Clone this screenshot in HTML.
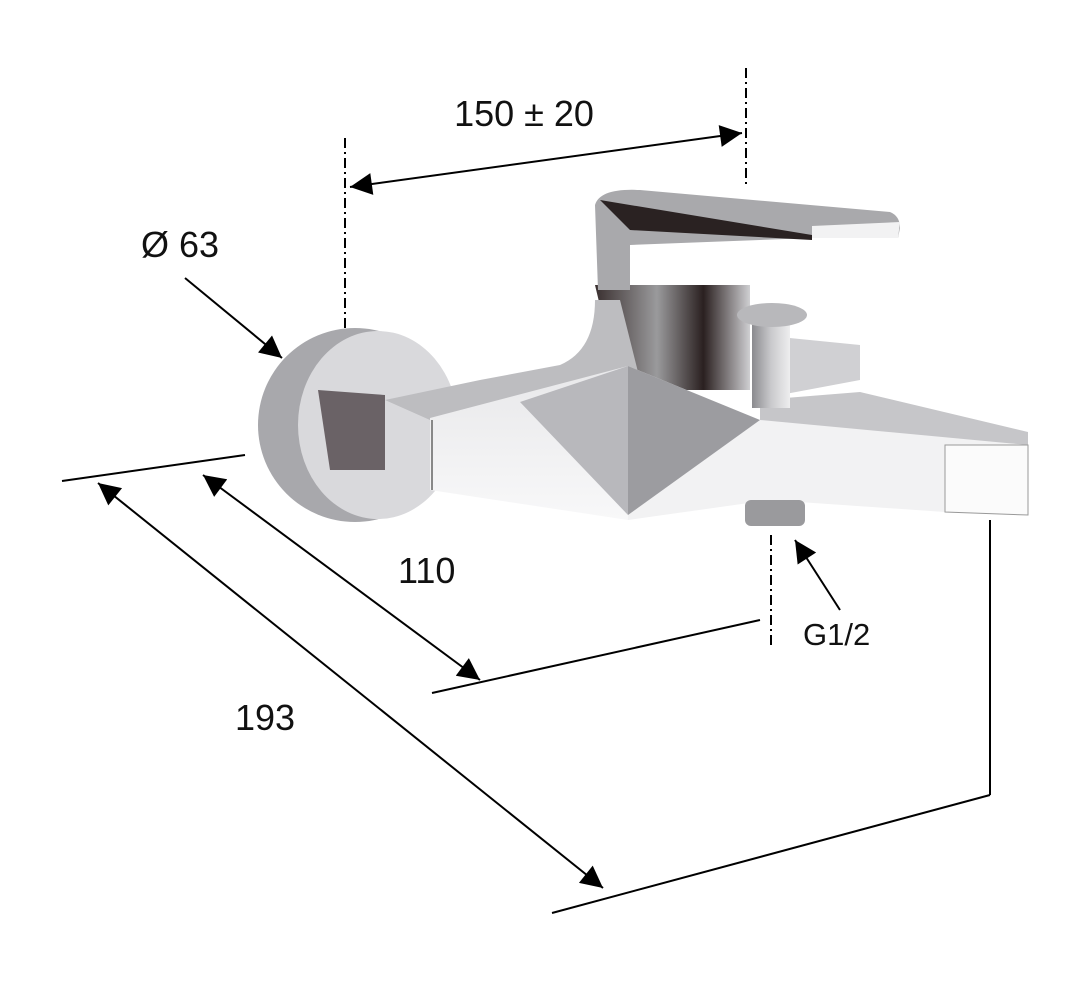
<!DOCTYPE html>
<html><head><meta charset="utf-8"><style>
html,body{margin:0;padding:0;background:#fff;}
svg{display:block;}
text{font-family:"Liberation Sans",sans-serif;fill:#111;}
</style></head><body>
<svg width="1077" height="985" viewBox="0 0 1077 985" xmlns="http://www.w3.org/2000/svg">
<defs>
<marker id="b" viewBox="0 0 10 10" refX="10" refY="5" markerWidth="28" markerHeight="22" orient="auto-start-reverse" markerUnits="userSpaceOnUse"><path d="M0,0 L10,5 L0,10 z" fill="#000"/></marker>
<linearGradient id="g1" x1="0" y1="0" x2="1" y2="0"><stop offset="0" stop-color="#8a8a8e"/><stop offset="0.5" stop-color="#c9c9cc"/><stop offset="1" stop-color="#eeeeef"/></linearGradient>
<linearGradient id="g2" x1="0" y1="0" x2="1" y2="0"><stop offset="0" stop-color="#3a3030"/><stop offset="0.4" stop-color="#9a9a9c"/><stop offset="0.7" stop-color="#2a2020"/><stop offset="1" stop-color="#cfcfd2"/></linearGradient>
<linearGradient id="g3" x1="0" y1="0" x2="0" y2="1"><stop offset="0" stop-color="#e8e8ea"/><stop offset="1" stop-color="#f8f8f9"/></linearGradient>
</defs>

<ellipse cx="355" cy="425" rx="97" ry="97" fill="#a8a8ac"/>
<ellipse cx="378" cy="425" rx="80" ry="94" fill="#d9d9dc"/>
<path d="M318,390 L385,395 L385,470 L330,470 Z" fill="#6a6266"/>
<path d="M595,285 L750,285 L750,390 L620,390 Z" fill="url(#g2)"/>
<path d="M760,335 L860,345 L860,380 L780,395 Z" fill="#d0d0d3"/>
<path d="M385,400 L480,380 L560,365 Q595,350 595,300 L620,300 L640,380 L640,390 L430,420 Z" fill="#bdbdc0"/>
<path d="M760,400 L860,392 L1028,432 L1028,445 L760,425 Z" fill="#c6c6c9"/>
<path d="M430,418 L628,366 L628,520 L430,490 Z" fill="url(#g3)"/>
<path d="M520,402 L628,366 L628,515 Z" fill="#b8b8bc"/>
<path d="M628,366 L760,420 L1028,445 L1028,515 L945,512 L770,500 L628,520 Z" fill="#f2f2f3"/>
<path d="M628,366 L760,420 L628,515 Z" fill="#9c9ca0"/>
<path d="M945,445 L945,512 L1028,515 L1028,445 Z" fill="#fbfbfb" stroke="#999" stroke-width="1"/>
<path d="M432,420 L432,490" stroke="#888" stroke-width="2"/>
<rect x="752" y="318" width="38" height="90" fill="url(#g1)"/>
<ellipse cx="772" cy="315" rx="35" ry="12" fill="#b8b8bb"/>
<rect x="745" y="500" width="60" height="26" rx="6" fill="#9a9a9d"/>
<path d="M595,205 Q600,188 640,190 L890,212 Q900,216 900,228 L898,238 L812,238 L630,245 L630,290 L598,290 Z" fill="#a9a9ac"/>
<path d="M600,200 L812,235 L812,240 L630,230 Z" fill="#2a2222"/>
<path d="M812,226 L900,222 L898,238 L812,238 Z" fill="#f2f2f3"/>

<g stroke="#000" stroke-width="2" fill="none">
<line x1="345" y1="138" x2="345" y2="330" stroke-dasharray="10,4,2,4"/>
<line x1="746" y1="68" x2="746" y2="185" stroke-dasharray="10,4,2,4"/>
<line x1="771" y1="535" x2="771" y2="645" stroke-dasharray="10,4,2,4"/>
<line x1="350" y1="187" x2="742" y2="133" marker-start="url(#b)" marker-end="url(#b)"/>
<line x1="185" y1="278" x2="282" y2="358" marker-end="url(#b)"/>
<line x1="62" y1="481" x2="245" y2="455"/>
<line x1="432" y1="693" x2="760" y2="620"/>
<line x1="203" y1="475" x2="480" y2="680" marker-start="url(#b)" marker-end="url(#b)"/>
<line x1="98" y1="483" x2="603" y2="888" marker-start="url(#b)" marker-end="url(#b)"/>
<line x1="552" y1="913" x2="990" y2="795"/>
<line x1="990" y1="520" x2="990" y2="795"/>
<line x1="840" y1="610" x2="795" y2="540" marker-end="url(#b)"/>
</g>

<text x="524" y="126" font-size="36" text-anchor="middle">150 ± 20</text>
<text x="141" y="257" font-size="36">Ø 63</text>
<text x="398" y="583" font-size="36">110</text>
<text x="235" y="730" font-size="36">193</text>
<text x="803" y="645" font-size="31">G1/2</text>
</svg>
</body></html>
